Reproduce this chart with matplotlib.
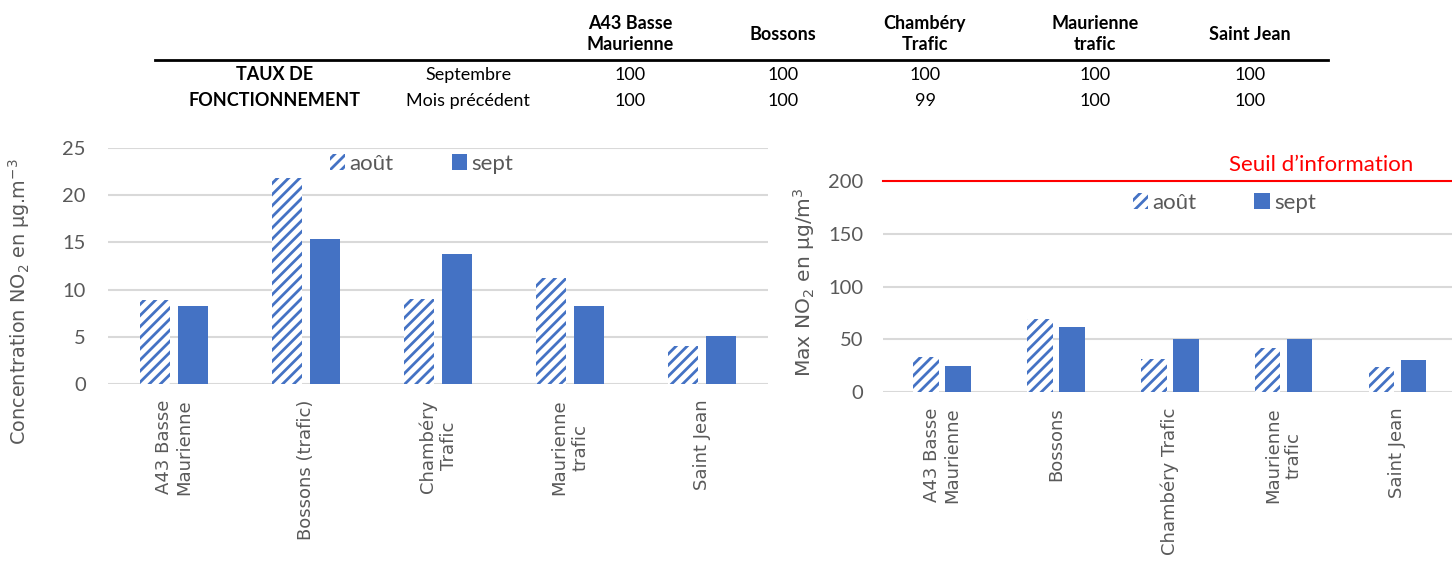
import matplotlib
matplotlib.use("Agg")
import matplotlib.pyplot as plt
import numpy as np
from matplotlib.patches import Patch

# Données
stations_moy = ["A43 Basse\nMaurienne", "Bossons (trafic)", "Chambéry\nTrafic", "Maurienne\ntrafic", "Saint Jean"]
stations_max = ["A43 Basse\nMaurienne", "Bossons", "Chambéry Trafic", "Maurienne\ntrafic", "Saint Jean"]
moy_aout = [8.9, 21.8, 9.0, 11.2, 4.0]
moy_sept = [8.3, 15.4, 13.8, 8.3, 5.1]
max_aout = [33, 69, 31, 42, 24]
max_sept = [25, 62, 50, 50, 30]
seuil_info = 200

table_cols = ["A43 Basse\nMaurienne", "Bossons", "Chambéry\nTrafic", "Maurienne\ntrafic", "Saint Jean"]
taux_sept = ["100", "100", "100", "100", "100"]
taux_prec = ["100", "100", "99", "100", "100"]

BLEU = "#4472C4"
GRIS = "#595959"
GRILLE = "#D9D9D9"
plt.rcParams["hatch.linewidth"] = 2.0
TXT = ["Liberation Sans Narrow", "Lato", "DejaVu Sans"]

fig = plt.figure(figsize=(14.52, 5.65), dpi=100)


def barres(ax, aout, sept, labels, w, off, ypad):
    x = np.arange(len(labels))
    ax.bar(x - off, aout, w, facecolor="white", edgecolor=BLEU, hatch="///", linewidth=0, zorder=3)
    ax.bar(x + off, sept, w, color=BLEU, zorder=3)
    ax.set_xticks(x)
    ax.set_xticklabels(labels, rotation=90, va="top", multialignment="center")
    for s in ax.spines.values():
        s.set_visible(False)
    ax.tick_params(axis="x", length=0, pad=11)
    ax.tick_params(axis="y", length=0, pad=ypad, labelsize=14.5, labelcolor=GRIS)
    ax.grid(axis="y", color=GRILLE, linewidth=1.5, zorder=0)
    ax.set_axisbelow(True)
    leg = [Patch(facecolor="white", edgecolor=BLEU, hatch="///", linewidth=0, label="août"),
           Patch(facecolor=BLEU, label="sept")]
    return leg


def polices(ax):
    for t in ax.get_xticklabels():
        t.set_fontfamily("DejaVu Sans")
        t.set_fontsize(13)
        t.set_color(GRIS)
    for t in ax.get_yticklabels():
        t.set_fontfamily(TXT)


# Graphique de gauche : moyennes
ax1 = fig.add_axes([108 / 1452, 1 - 384 / 565, 660 / 1452, 236 / 565])
leg = barres(ax1, moy_aout, moy_sept, stations_moy, 0.23, 0.145, 16)
ax1.set_xlim(-0.5, 4.5)
ax1.set_ylim(0, 25)
ax1.set_yticks([0, 5, 10, 15, 20, 25])
polices(ax1)
ax1.legend(handles=leg, loc="upper center", bbox_to_anchor=(0.475, 1.06), ncol=2, frameon=False,
           prop={"family": TXT, "size": 16}, labelcolor=GRIS, handlelength=0.7, handleheight=0.7,
           handletextpad=0.2, columnspacing=2.6)
fig.text(19 / 1452, 1 - 302 / 565, "Concentration NO$_2$ en µg.m$^{-3}$", rotation=90, ha="center", va="center",
         fontsize=13.9, color=GRIS)

# Graphique de droite : maxima
ax2 = fig.add_axes([883 / 1452, 1 - 392 / 565, 569 / 1452, 211 / 565])
leg = barres(ax2, max_aout, max_sept, stations_max, 0.225, 0.141, 14)
ax2.set_xlim(-0.52, 4.48)
ax2.set_ylim(0, 200)
ax2.set_yticks([0, 50, 100, 150, 200])
polices(ax2)
ax2.axhline(seuil_info, color="#FF0000", linewidth=1.5, zorder=4, clip_on=False)
ax2.text(0.77, 1.03, "Seuil d’information", transform=ax2.transAxes, ha="center", va="bottom",
         color="#FF0000", fontsize=16, family=TXT)
ax2.legend(handles=leg, loc="upper center", bbox_to_anchor=(0.6, 1.04), ncol=2, frameon=False,
           prop={"family": TXT, "size": 16}, labelcolor=GRIS, handlelength=0.7, handleheight=0.7,
           handletextpad=0.2, columnspacing=2.6)
fig.text(804 / 1452, 1 - 282 / 565, "Max NO$_2$ en µg/m$^3$", rotation=90, ha="center", va="center",
         fontsize=14.6, color=GRIS)

# Tableau du taux de fonctionnement
col_x = [630, 783, 925, 1095, 1250]
for cx, col, v1, v2 in zip(col_x, table_cols, taux_sept, taux_prec):
    fig.text(cx / 1452, 1 - 34 / 565, col, ha="center", va="center", fontsize=13, weight="bold",
             family=TXT, linespacing=1.3)
    fig.text(cx / 1452, 1 - 75 / 565, v1, ha="center", va="center", fontsize=13, family=TXT)
    fig.text(cx / 1452, 1 - 101 / 565, v2, ha="center", va="center", fontsize=13, family=TXT)
fig.text(275 / 1452, 1 - 75 / 565, "TAUX DE", ha="center", va="center", fontsize=13, weight="bold", family=TXT)
fig.text(275 / 1452, 1 - 101 / 565, "FONCTIONNEMENT", ha="center", va="center", fontsize=13, weight="bold", family=TXT)
fig.text(468 / 1452, 1 - 75 / 565, "Septembre", ha="center", va="center", fontsize=13, family=TXT)
fig.text(468 / 1452, 1 - 101 / 565, "Mois précédent", ha="center", va="center", fontsize=13, family=TXT)
fig.add_artist(plt.Line2D([155 / 1452, 1328 / 1452], [1 - 60 / 565, 1 - 60 / 565], color="black", linewidth=2))

fig.savefig("out.png", dpi=100)
